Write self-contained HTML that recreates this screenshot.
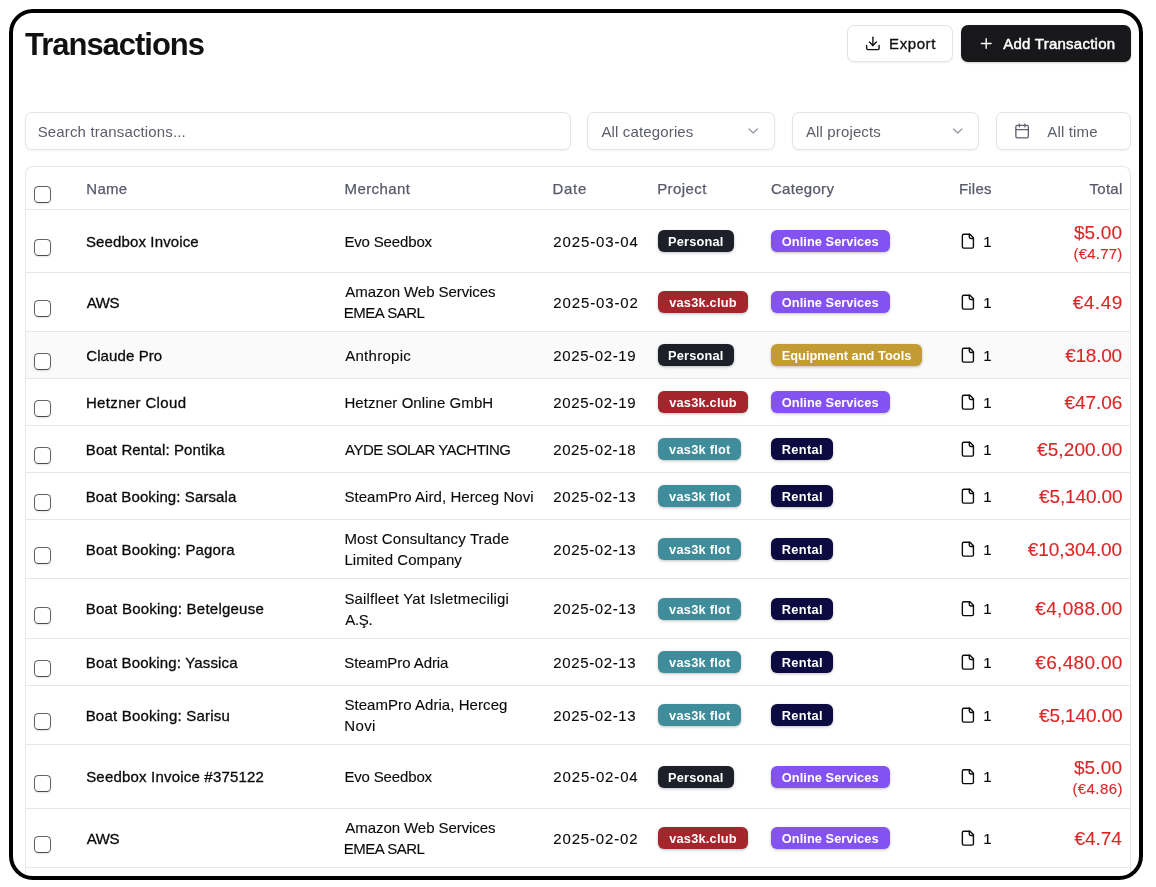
<!DOCTYPE html>
<html lang="en">
<head>
<meta charset="utf-8">
<title>Transactions</title>
<style>
*{box-sizing:border-box;margin:0;padding:0}
html,body{width:1156px;height:887px;background:#fff;overflow:hidden}
body{position:relative;font-family:"Liberation Sans",Arial,sans-serif;color:#0a0a0a;font-size:15px;line-height:21px}
.frame{position:absolute;left:9px;top:9px;width:1134px;height:871px;border:4px solid #000;border-radius:24px;z-index:10;pointer-events:none}
h1{position:absolute;left:26px;top:25px;font-size:31px;line-height:40px;font-weight:700;letter-spacing:-0.5px;color:#111;white-space:nowrap}
.btn{position:absolute;top:25px;height:37px;border-radius:7px;display:flex;align-items:center;font-size:15px;font-weight:400;-webkit-text-stroke:0.35px currentColor;letter-spacing:0.15px;white-space:nowrap}
.btn-export{left:847px;width:106px;border:1px solid #e3e3e7;background:#fff;color:#111;box-shadow:0 1px 2px rgba(0,0,0,.06)}
.btn-add{left:961px;width:170px;background:#18181b;color:#fff;-webkit-text-stroke:0.45px currentColor;box-shadow:0 1px 2px rgba(0,0,0,.2)}
.ico{position:absolute;overflow:visible;display:block}
.btn>span{position:absolute}
.field{position:absolute;top:112px;height:38px;border:1px solid #e3e3e7;border-radius:7px;background:#fff;box-shadow:0 1px 2px rgba(0,0,0,.05);display:flex;align-items:center;font-size:15px;color:#5b5d6b;white-space:nowrap;padding-top:1px}
.field>span{position:absolute}
.search{left:25px;width:546px}
.sel-cat{left:587px;width:188px}
.sel-proj{left:792px;width:187px}
.btn-time{left:996px;width:135px}
.table{position:absolute;left:25px;top:166px;width:1106px;height:712px;border:1px solid #e7e7ea;border-bottom:none;border-radius:8px 8px 0 0;overflow:hidden}
.thead{position:absolute;left:0;top:0;width:100%;height:43px;border-bottom:1px solid #e7e7ea;color:#585a6b;font-size:15px;-webkit-text-stroke:0.25px currentColor}
.thead .c{top:0;height:42px}
.row{position:absolute;left:0;width:100%;border-bottom:1px solid #e7e7ea;-webkit-text-stroke:0.12px currentColor}
.row.hover{background:#fafafa}
.c{position:absolute;top:0;height:100%;display:flex;align-items:center;white-space:nowrap;padding-top:1px}
.row .c{height:calc(100% - 1px)}
.cb{position:absolute;left:8px;width:17px;height:17px;border:1px solid #636363;border-bottom-color:#4a4a4a;border-radius:4.5px;background:#fff;box-shadow:0 1px 2px rgba(0,0,0,.12);top:50%;margin-top:-2px}
.c-name{left:61px}
.row .c-name{-webkit-text-stroke:0.3px currentColor}
.c-merch{left:319px}
.c-date{left:528px}
.c-proj{left:632px}
.c-cat{left:745px}
.c-files{left:958px}
.c-total{right:9px;padding-top:2px;justify-content:flex-end;text-align:right;color:#dc2626}
.badge{display:block;-webkit-text-stroke:0;height:22px;line-height:23px;text-align:center;border-radius:6px;color:#fff;font-size:12.8px;font-weight:700;box-shadow:0 1px 3px rgba(0,0,0,.25)}
.b-personal{background:#1e2029;width:76px}
.b-club{background:#a4262c;width:90px}
.b-flot{background:#3f8c9b;width:83px}
.b-online{background:#8552f2;width:119px}
.b-equip{background:#c39b33;width:151px}
.b-rental{background:#0b0b42;width:62px}
.fileico{display:block;color:#111}

.amt{font-size:19px;line-height:24px}
.sub{font-size:15px;line-height:18px}
</style>
</head>
<body>
<h1><span style="letter-spacing:-1.018px;position:relative;left:-1.03px">Transactions</span></h1>

<div class="btn btn-export">
  <svg class="ico" style="left:12px;top:5px" width="24" height="24" viewBox="0 0 24 24" fill="none" stroke="currentColor" stroke-width="2.0" stroke-linecap="round" stroke-linejoin="round"><g transform="translate(4.60 4.10) scale(0.6917)"><path d="M21 15v4a2 2 0 0 1-2 2H5a2 2 0 0 1-2-2v-4"/><path d="M7 10l5 5 5-5"/><path d="M12 15V3"/></g></svg>
  <span style="left:42px"><span style="letter-spacing:0.578px;position:relative;left:-0.90px">Export</span></span>
</div>
<div class="btn btn-add">
  <svg class="ico" style="left:13px;top:6px" width="24" height="24" viewBox="0 0 24 24" fill="none" stroke="currentColor" stroke-width="2.0" stroke-linecap="round" stroke-linejoin="round"><g transform="translate(3.90 4.20) scale(0.6917)"><path d="M5 12h14"/><path d="M12 5v14"/></g></svg>
  <span style="left:41px"><span style="letter-spacing:0.248px;position:relative;left:1.23px">Add Transaction</span></span>
</div>

<div class="field search"><span style="left:13px"><span style="letter-spacing:0.141px;position:relative;left:-1.31px">Search transactions...</span></span></div>
<div class="field sel-cat"><span style="left:13px"><span style="letter-spacing:0.147px;position:relative;left:0.42px">All categories</span></span>
  <svg class="ico" style="left:153px;top:6px" width="24" height="24" viewBox="0 0 24 24" fill="none" stroke="#9a9aa6" stroke-width="1.9" stroke-linecap="round" stroke-linejoin="round"><g transform="translate(3.90 3.70) scale(0.6917)"><path d="M6 9l6 6 6-6"/></g></svg>
</div>
<div class="field sel-proj"><span style="left:13px"><span style="letter-spacing:0.132px;position:relative;left:-0.03px">All projects</span></span>
  <svg class="ico" style="left:152px;top:6px" width="24" height="24" viewBox="0 0 24 24" fill="none" stroke="#9a9aa6" stroke-width="1.9" stroke-linecap="round" stroke-linejoin="round"><g transform="translate(4.40 3.70) scale(0.6917)"><path d="M6 9l6 6 6-6"/></g></svg>
</div>
<div class="field btn-time">
  <svg class="ico" style="left:13px;top:6px" width="24" height="24" viewBox="0 0 24 24" fill="none" stroke="#5f606d" stroke-width="1.9" stroke-linecap="round" stroke-linejoin="round"><g transform="translate(3.80 3.70) scale(0.6917)"><path d="M8 2v4"/><path d="M16 2v4"/><rect x="3" y="4" width="18" height="18" rx="2"/><path d="M3 10h18"/></g></svg>
  <span style="left:51px"><span style="letter-spacing:0.136px;position:relative;left:-0.65px">All time</span></span>
</div>

<div class="table">
  <div class="thead">
    <span class="cb" style="top:19px;margin-top:0"></span>
    <div class="c c-name"><span style="letter-spacing:0.240px;position:relative;left:-0.70px">Name</span></div>
    <div class="c c-merch"><span style="letter-spacing:0.399px;position:relative;left:-0.42px">Merchant</span></div>
    <div class="c c-date"><span style="letter-spacing:0.703px;position:relative;left:-1.54px">Date</span></div>
    <div class="c c-proj"><span style="letter-spacing:0.433px;position:relative;left:-0.89px">Project</span></div>
    <div class="c c-cat"><span style="letter-spacing:0.303px;position:relative;left:-0.11px">Category</span></div>
    <div class="c c-files" style="left:934px"><span style="letter-spacing:0.174px;position:relative;left:-0.97px">Files</span></div>
    <div class="c c-total" style="color:inherit;padding-top:1px"><span style="letter-spacing:0.295px;position:relative;left:1.65px">Total</span></div>
  </div>
  <div class="row" style="top:43px;height:63px">
    <span class="cb"></span>
    <div class="c c-name"><span style="letter-spacing:0.130px;position:relative;left:-1.07px">Seedbox Invoice</span></div>
    <div class="c c-merch"><div><span style="letter-spacing:-0.154px;position:relative;left:-0.64px">Evo Seedbox</span></div></div>
    <div class="c c-date"><span style="letter-spacing:0.872px;position:relative;left:-0.73px">2025-03-04</span></div>
    <div class="c c-proj"><span class="badge b-personal"><span style="letter-spacing:0.152px;position:relative;left:-0.26px">Personal</span></span></div>
    <div class="c c-cat"><span class="badge b-online"><span style="letter-spacing:0.053px;position:relative;left:-0.29px">Online Services</span></span></div>
    <svg class="ico" style="left:929px;top:19px" width="24" height="24" viewBox="0 0 24 24" fill="none" stroke="currentColor" stroke-width="2.0" stroke-linecap="round" stroke-linejoin="round"><g transform="translate(4.60 3.90) scale(0.6917)"><path d="M15 2H6a2 2 0 0 0-2 2v16a2 2 0 0 0 2 2h12a2 2 0 0 0 2-2V7Z"/><path d="M14 2v4a2 2 0 0 0 2 2h4"/></g></svg>
    <div class="c c-files"><span style="position:relative;left:-0.75px">1</span></div>
    <div class="c c-total"><div><div class="amt"><span style="letter-spacing:0.143px;position:relative;left:1.17px">$5.00</span></div><div class="sub"><span style="letter-spacing:0.204px;position:relative;left:1.48px">(€4.77)</span></div></div></div>
  </div>
  <div class="row" style="top:106px;height:59px">
    <span class="cb"></span>
    <div class="c c-name"><span style="letter-spacing:-0.351px;position:relative;left:-0.30px">AWS</span></div>
    <div class="c c-merch"><div><span style="letter-spacing:-0.066px;position:relative;left:0.30px">Amazon Web Services</span><br><span style="letter-spacing:-0.500px;position:relative;left:-1.19px">EMEA SARL</span></div></div>
    <div class="c c-date"><span style="letter-spacing:0.879px;position:relative;left:-0.74px">2025-03-02</span></div>
    <div class="c c-proj"><span class="badge b-club"><span style="letter-spacing:0.213px;position:relative;left:-0.06px">vas3k.club</span></span></div>
    <div class="c c-cat"><span class="badge b-online"><span style="letter-spacing:0.053px;position:relative;left:-0.29px">Online Services</span></span></div>
    <svg class="ico" style="left:929px;top:17px" width="24" height="24" viewBox="0 0 24 24" fill="none" stroke="currentColor" stroke-width="2.0" stroke-linecap="round" stroke-linejoin="round"><g transform="translate(4.60 3.90) scale(0.6917)"><path d="M15 2H6a2 2 0 0 0-2 2v16a2 2 0 0 0 2 2h12a2 2 0 0 0 2-2V7Z"/><path d="M14 2v4a2 2 0 0 0 2 2h4"/></g></svg>
    <div class="c c-files"><span style="position:relative;left:-0.75px">1</span></div>
    <div class="c c-total"><div><div class="amt"><span style="letter-spacing:0.523px;position:relative;left:1.86px">€4.49</span></div></div></div>
  </div>
  <div class="row hover" style="top:165px;height:47px">
    <span class="cb"></span>
    <div class="c c-name"><span style="letter-spacing:0.102px;position:relative;left:-0.78px">Claude Pro</span></div>
    <div class="c c-merch"><div><span style="letter-spacing:0.275px;position:relative;left:0.21px">Anthropic</span></div></div>
    <div class="c c-date"><span style="letter-spacing:0.617px;position:relative;left:-0.73px">2025-02-19</span></div>
    <div class="c c-proj"><span class="badge b-personal"><span style="letter-spacing:0.152px;position:relative;left:-0.26px">Personal</span></span></div>
    <div class="c c-cat"><span class="badge b-equip"><span style="letter-spacing:0.028px;position:relative;left:0.02px">Equipment and Tools</span></span></div>
    <svg class="ico" style="left:929px;top:11px" width="24" height="24" viewBox="0 0 24 24" fill="none" stroke="currentColor" stroke-width="2.0" stroke-linecap="round" stroke-linejoin="round"><g transform="translate(4.60 3.90) scale(0.6917)"><path d="M15 2H6a2 2 0 0 0-2 2v16a2 2 0 0 0 2 2h12a2 2 0 0 0 2-2V7Z"/><path d="M14 2v4a2 2 0 0 0 2 2h4"/></g></svg>
    <div class="c c-files"><span style="position:relative;left:-0.75px">1</span></div>
    <div class="c c-total"><div><div class="amt"><span style="letter-spacing:-0.246px;position:relative;left:0.82px">€18.00</span></div></div></div>
  </div>
  <div class="row" style="top:212px;height:47px">
    <span class="cb"></span>
    <div class="c c-name"><span style="letter-spacing:0.355px;position:relative;left:-1.12px">Hetzner Cloud</span></div>
    <div class="c c-merch"><div><span style="letter-spacing:0.063px;position:relative;left:-0.57px">Hetzner Online GmbH</span></div></div>
    <div class="c c-date"><span style="letter-spacing:0.615px;position:relative;left:-0.73px">2025-02-19</span></div>
    <div class="c c-proj"><span class="badge b-club"><span style="letter-spacing:0.213px;position:relative;left:-0.06px">vas3k.club</span></span></div>
    <div class="c c-cat"><span class="badge b-online"><span style="letter-spacing:0.053px;position:relative;left:-0.29px">Online Services</span></span></div>
    <svg class="ico" style="left:929px;top:11px" width="24" height="24" viewBox="0 0 24 24" fill="none" stroke="currentColor" stroke-width="2.0" stroke-linecap="round" stroke-linejoin="round"><g transform="translate(4.60 3.90) scale(0.6917)"><path d="M15 2H6a2 2 0 0 0-2 2v16a2 2 0 0 0 2 2h12a2 2 0 0 0 2-2V7Z"/><path d="M14 2v4a2 2 0 0 0 2 2h4"/></g></svg>
    <div class="c c-files"><span style="position:relative;left:-0.75px">1</span></div>
    <div class="c c-total"><div><div class="amt"><span style="letter-spacing:-0.055px;position:relative;left:1.32px">€47.06</span></div></div></div>
  </div>
  <div class="row" style="top:259px;height:47px">
    <span class="cb"></span>
    <div class="c c-name"><span style="letter-spacing:0.114px;position:relative;left:-1.22px">Boat Rental: Pontika</span></div>
    <div class="c c-merch"><div><span style="letter-spacing:-0.500px;position:relative;left:-0.03px">AYDE SOLAR YACHTING</span></div></div>
    <div class="c c-date"><span style="letter-spacing:0.628px;position:relative;left:-0.83px">2025-02-18</span></div>
    <div class="c c-proj"><span class="badge b-flot"><span style="letter-spacing:0.240px;position:relative;left:0.32px">vas3k flot</span></span></div>
    <div class="c c-cat"><span class="badge b-rental"><span style="letter-spacing:0.346px;position:relative;left:0.28px">Rental</span></span></div>
    <svg class="ico" style="left:929px;top:11px" width="24" height="24" viewBox="0 0 24 24" fill="none" stroke="currentColor" stroke-width="2.0" stroke-linecap="round" stroke-linejoin="round"><g transform="translate(4.60 3.90) scale(0.6917)"><path d="M15 2H6a2 2 0 0 0-2 2v16a2 2 0 0 0 2 2h12a2 2 0 0 0 2-2V7Z"/><path d="M14 2v4a2 2 0 0 0 2 2h4"/></g></svg>
    <div class="c c-files"><span style="position:relative;left:-0.75px">1</span></div>
    <div class="c c-total"><div><div class="amt"><span style="letter-spacing:0.108px;position:relative;left:1.49px">€5,200.00</span></div></div></div>
  </div>
  <div class="row" style="top:306px;height:47px">
    <span class="cb"></span>
    <div class="c c-name"><span style="letter-spacing:0.108px;position:relative;left:-1.25px">Boat Booking: Sarsala</span></div>
    <div class="c c-merch"><div><span style="letter-spacing:0.066px;position:relative;left:-0.63px">SteamPro Aird, Herceg Novi</span></div></div>
    <div class="c c-date"><span style="letter-spacing:0.625px;position:relative;left:-0.68px">2025-02-13</span></div>
    <div class="c c-proj"><span class="badge b-flot"><span style="letter-spacing:0.240px;position:relative;left:0.32px">vas3k flot</span></span></div>
    <div class="c c-cat"><span class="badge b-rental"><span style="letter-spacing:0.346px;position:relative;left:0.28px">Rental</span></span></div>
    <svg class="ico" style="left:929px;top:11px" width="24" height="24" viewBox="0 0 24 24" fill="none" stroke="currentColor" stroke-width="2.0" stroke-linecap="round" stroke-linejoin="round"><g transform="translate(4.60 3.90) scale(0.6917)"><path d="M15 2H6a2 2 0 0 0-2 2v16a2 2 0 0 0 2 2h12a2 2 0 0 0 2-2V7Z"/><path d="M14 2v4a2 2 0 0 0 2 2h4"/></g></svg>
    <div class="c c-files"><span style="position:relative;left:-0.75px">1</span></div>
    <div class="c c-total"><div><div class="amt"><span style="letter-spacing:-0.135px;position:relative;left:1.38px">€5,140.00</span></div></div></div>
  </div>
  <div class="row" style="top:353px;height:59px">
    <span class="cb"></span>
    <div class="c c-name"><span style="letter-spacing:0.146px;position:relative;left:-1.23px">Boat Booking: Pagora</span></div>
    <div class="c c-merch"><div><span style="letter-spacing:0.138px;position:relative;left:-0.59px">Most Consultancy Trade</span><br><span style="letter-spacing:0.055px;position:relative;left:-0.63px">Limited Company</span></div></div>
    <div class="c c-date"><span style="letter-spacing:0.625px;position:relative;left:-0.68px">2025-02-13</span></div>
    <div class="c c-proj"><span class="badge b-flot"><span style="letter-spacing:0.240px;position:relative;left:0.32px">vas3k flot</span></span></div>
    <div class="c c-cat"><span class="badge b-rental"><span style="letter-spacing:0.346px;position:relative;left:0.28px">Rental</span></span></div>
    <svg class="ico" style="left:929px;top:17px" width="24" height="24" viewBox="0 0 24 24" fill="none" stroke="currentColor" stroke-width="2.0" stroke-linecap="round" stroke-linejoin="round"><g transform="translate(4.60 3.90) scale(0.6917)"><path d="M15 2H6a2 2 0 0 0-2 2v16a2 2 0 0 0 2 2h12a2 2 0 0 0 2-2V7Z"/><path d="M14 2v4a2 2 0 0 0 2 2h4"/></g></svg>
    <div class="c c-files"><span style="position:relative;left:-0.75px">1</span></div>
    <div class="c c-total"><div><div class="amt"><span style="letter-spacing:-0.062px;position:relative;left:1.15px">€10,304.00</span></div></div></div>
  </div>
  <div class="row" style="top:412px;height:60px">
    <span class="cb"></span>
    <div class="c c-name"><span style="letter-spacing:0.236px;position:relative;left:-1.29px">Boat Booking: Betelgeuse</span></div>
    <div class="c c-merch"><div><span style="letter-spacing:0.156px;position:relative;left:-0.58px">Sailfleet Yat Isletmeciligi</span><br><span style="letter-spacing:-0.363px;position:relative;left:0.33px">A.Ş.</span></div></div>
    <div class="c c-date"><span style="letter-spacing:0.625px;position:relative;left:-0.68px">2025-02-13</span></div>
    <div class="c c-proj"><span class="badge b-flot"><span style="letter-spacing:0.240px;position:relative;left:0.32px">vas3k flot</span></span></div>
    <div class="c c-cat"><span class="badge b-rental"><span style="letter-spacing:0.346px;position:relative;left:0.28px">Rental</span></span></div>
    <svg class="ico" style="left:929px;top:17px" width="24" height="24" viewBox="0 0 24 24" fill="none" stroke="currentColor" stroke-width="2.0" stroke-linecap="round" stroke-linejoin="round"><g transform="translate(4.60 4.40) scale(0.6917)"><path d="M15 2H6a2 2 0 0 0-2 2v16a2 2 0 0 0 2 2h12a2 2 0 0 0 2-2V7Z"/><path d="M14 2v4a2 2 0 0 0 2 2h4"/></g></svg>
    <div class="c c-files"><span style="position:relative;left:-0.75px">1</span></div>
    <div class="c c-total"><div><div class="amt"><span style="letter-spacing:0.317px;position:relative;left:1.71px">€4,088.00</span></div></div></div>
  </div>
  <div class="row" style="top:472px;height:47px">
    <span class="cb"></span>
    <div class="c c-name"><span style="letter-spacing:0.158px;position:relative;left:-1.29px">Boat Booking: Yassica</span></div>
    <div class="c c-merch"><div><span style="letter-spacing:-0.070px;position:relative;left:-0.69px">SteamPro Adria</span></div></div>
    <div class="c c-date"><span style="letter-spacing:0.625px;position:relative;left:-0.68px">2025-02-13</span></div>
    <div class="c c-proj"><span class="badge b-flot"><span style="letter-spacing:0.240px;position:relative;left:0.32px">vas3k flot</span></span></div>
    <div class="c c-cat"><span class="badge b-rental"><span style="letter-spacing:0.346px;position:relative;left:0.28px">Rental</span></span></div>
    <svg class="ico" style="left:929px;top:11px" width="24" height="24" viewBox="0 0 24 24" fill="none" stroke="currentColor" stroke-width="2.0" stroke-linecap="round" stroke-linejoin="round"><g transform="translate(4.60 3.90) scale(0.6917)"><path d="M15 2H6a2 2 0 0 0-2 2v16a2 2 0 0 0 2 2h12a2 2 0 0 0 2-2V7Z"/><path d="M14 2v4a2 2 0 0 0 2 2h4"/></g></svg>
    <div class="c c-files"><span style="position:relative;left:-0.75px">1</span></div>
    <div class="c c-total"><div><div class="amt"><span style="letter-spacing:0.317px;position:relative;left:1.71px">€6,480.00</span></div></div></div>
  </div>
  <div class="row" style="top:519px;height:59px">
    <span class="cb"></span>
    <div class="c c-name"><span style="letter-spacing:0.220px;position:relative;left:-1.38px">Boat Booking: Sarisu</span></div>
    <div class="c c-merch"><div><span style="letter-spacing:0.059px;position:relative;left:-0.61px">SteamPro Adria, Herceg</span><br><span style="letter-spacing:0.363px;position:relative;left:-0.66px">Novi</span></div></div>
    <div class="c c-date"><span style="letter-spacing:0.625px;position:relative;left:-0.68px">2025-02-13</span></div>
    <div class="c c-proj"><span class="badge b-flot"><span style="letter-spacing:0.240px;position:relative;left:0.32px">vas3k flot</span></span></div>
    <div class="c c-cat"><span class="badge b-rental"><span style="letter-spacing:0.346px;position:relative;left:0.28px">Rental</span></span></div>
    <svg class="ico" style="left:929px;top:17px" width="24" height="24" viewBox="0 0 24 24" fill="none" stroke="currentColor" stroke-width="2.0" stroke-linecap="round" stroke-linejoin="round"><g transform="translate(4.60 3.90) scale(0.6917)"><path d="M15 2H6a2 2 0 0 0-2 2v16a2 2 0 0 0 2 2h12a2 2 0 0 0 2-2V7Z"/><path d="M14 2v4a2 2 0 0 0 2 2h4"/></g></svg>
    <div class="c c-files"><span style="position:relative;left:-0.75px">1</span></div>
    <div class="c c-total"><div><div class="amt"><span style="letter-spacing:-0.135px;position:relative;left:1.38px">€5,140.00</span></div></div></div>
  </div>
  <div class="row" style="top:578px;height:64px">
    <span class="cb"></span>
    <div class="c c-name"><span style="letter-spacing:0.196px;position:relative;left:-0.85px">Seedbox Invoice #375122</span></div>
    <div class="c c-merch"><div><span style="letter-spacing:-0.154px;position:relative;left:-0.64px">Evo Seedbox</span></div></div>
    <div class="c c-date"><span style="letter-spacing:0.852px;position:relative;left:-0.71px">2025-02-04</span></div>
    <div class="c c-proj"><span class="badge b-personal"><span style="letter-spacing:0.152px;position:relative;left:-0.26px">Personal</span></span></div>
    <div class="c c-cat"><span class="badge b-online"><span style="letter-spacing:0.053px;position:relative;left:-0.29px">Online Services</span></span></div>
    <svg class="ico" style="left:929px;top:19px" width="24" height="24" viewBox="0 0 24 24" fill="none" stroke="currentColor" stroke-width="2.0" stroke-linecap="round" stroke-linejoin="round"><g transform="translate(4.60 4.40) scale(0.6917)"><path d="M15 2H6a2 2 0 0 0-2 2v16a2 2 0 0 0 2 2h12a2 2 0 0 0 2-2V7Z"/><path d="M14 2v4a2 2 0 0 0 2 2h4"/></g></svg>
    <div class="c c-files"><span style="position:relative;left:-0.75px">1</span></div>
    <div class="c c-total"><div><div class="amt"><span style="letter-spacing:0.143px;position:relative;left:1.17px">$5.00</span></div><div class="sub"><span style="letter-spacing:0.400px;position:relative;left:1.81px">(€4.86)</span></div></div></div>
  </div>
  <div class="row" style="top:642px;height:59px">
    <span class="cb"></span>
    <div class="c c-name"><span style="letter-spacing:-0.351px;position:relative;left:-0.30px">AWS</span></div>
    <div class="c c-merch"><div><span style="letter-spacing:-0.066px;position:relative;left:0.30px">Amazon Web Services</span><br><span style="letter-spacing:-0.500px;position:relative;left:-1.19px">EMEA SARL</span></div></div>
    <div class="c c-date"><span style="letter-spacing:0.831px;position:relative;left:-0.71px">2025-02-02</span></div>
    <div class="c c-proj"><span class="badge b-club"><span style="letter-spacing:0.213px;position:relative;left:-0.06px">vas3k.club</span></span></div>
    <div class="c c-cat"><span class="badge b-online"><span style="letter-spacing:0.053px;position:relative;left:-0.29px">Online Services</span></span></div>
    <svg class="ico" style="left:929px;top:17px" width="24" height="24" viewBox="0 0 24 24" fill="none" stroke="currentColor" stroke-width="2.0" stroke-linecap="round" stroke-linejoin="round"><g transform="translate(4.60 3.90) scale(0.6917)"><path d="M15 2H6a2 2 0 0 0-2 2v16a2 2 0 0 0 2 2h12a2 2 0 0 0 2-2V7Z"/><path d="M14 2v4a2 2 0 0 0 2 2h4"/></g></svg>
    <div class="c c-files"><span style="position:relative;left:-0.75px">1</span></div>
    <div class="c c-total"><div><div class="amt"><span style="letter-spacing:-0.067px;position:relative;left:0.81px">€4.74</span></div></div></div>
  </div>
</div>

<div class="frame"></div>
</body>
</html>
